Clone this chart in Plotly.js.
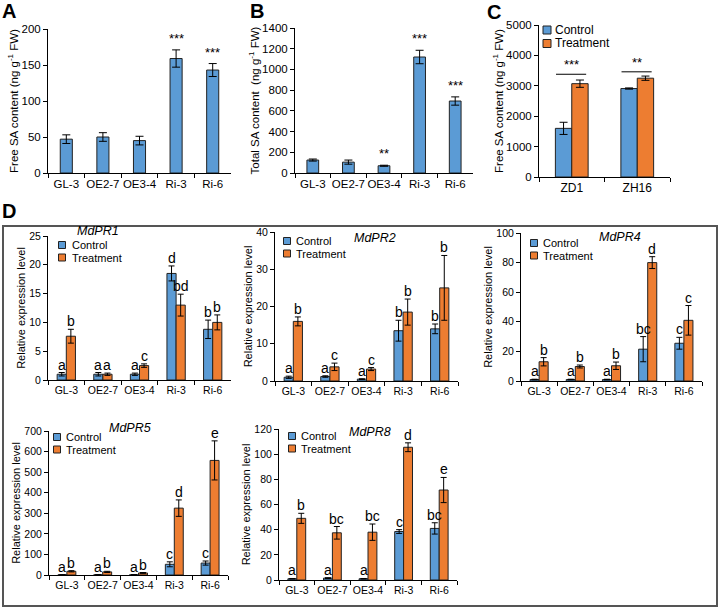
<!DOCTYPE html>
<html>
<head>
<meta charset="utf-8">
<script src="https://cdn.plot.ly/plotly-3.0.1.min.js"></script>
<style>html,body{margin:0;padding:0;background:#fff;}#chart{width:719px;height:609px;}</style>
</head>
<body>
<div id="chart"></div>
<script>
// ---------- data ----------
const lines = ['GL-3', 'OE2-7', 'OE3-4', 'Ri-3', 'Ri-6'];
const seriesNames = ['Control', 'Treatment'];

const freeSA = [47, 50, 45, 159, 143];
const freeSAErr = [6, 6, 6, 12, 9];
const freeSAStars = ['', '', '', '***', '***'];

const totalSA = [125, 105, 70, 1120, 695];
const totalSAErr = [10, 20, 5, 65, 40];
const totalSAStars = ['', '', '**', '***', '***'];

const cultivars = ['ZD1', 'ZH16'];
const cControl = [1600, 2910];
const cControlErr = [200, 20];
const cTreatment = [3070, 3250];
const cTreatmentErr = [120, 70];
const cStars = ['***', '**'];
const cSigLevel = [3380, 3460];

const genes = ['MdPR1', 'MdPR2', 'MdPR4', 'MdPR5', 'MdPR8'];
const pr1Control = [1, 1, 1, 18.5, 8.8];
const pr1ControlErr = [0.3, 0.3, 0.2, 1.3, 1.6];
const pr1Treatment = [7.6, 1.0, 2.5, 13, 10];
const pr1TreatmentErr = [1.2, 0.2, 0.3, 1.9, 1.3];
const pr1ControlLetters = ['a', 'a', 'a', 'd', 'b'];
const pr1TreatmentLetters = ['b', 'a', 'c', 'bd', 'b'];

const pr2Control = [1, 1.2, 0.5, 13.5, 14];
const pr2ControlErr = [0.3, 0.2, 0.1, 2.8, 1.3];
const pr2Treatment = [16, 3.8, 3.2, 18.5, 25];
const pr2TreatmentErr = [1.2, 1.0, 0.4, 3.5, 8.7];
const pr2ControlLetters = ['a', 'a', 'a', 'b', 'b'];
const pr2TreatmentLetters = ['b', 'c', 'c', 'b', 'b'];

const pr4Control = [1, 1, 1, 21.5, 25.5];
const pr4ControlErr = [0.2, 0.2, 0.2, 8.5, 4];
const pr4Treatment = [13, 9.8, 10.3, 80, 41];
const pr4TreatmentErr = [2.8, 1, 2.5, 4, 10];
const pr4ControlLetters = ['a', 'a', 'a', 'bc', 'c'];
const pr4TreatmentLetters = ['b', 'b', 'b', 'd', 'c'];

const pr5Control = [1, 1, 1, 52, 58];
const pr5ControlErr = [0.3, 0.3, 0.3, 12, 10];
const pr5Treatment = [18, 15, 10, 325, 557];
const pr5TreatmentErr = [3, 3, 2, 40, 95];
const pr5ControlLetters = ['a', 'a', 'a', 'c', 'c'];
const pr5TreatmentLetters = ['b', 'b', 'b', 'd', 'e'];

const pr8Control = [1, 1.5, 1, 38.5, 41];
const pr8ControlErr = [0.2, 0.3, 0.2, 1.5, 4.5];
const pr8Treatment = [49, 37.5, 38, 105.5, 71.5];
const pr8TreatmentErr = [4, 5, 6.5, 3.5, 10];
const pr8ControlLetters = ['a', 'a', 'a', 'c', 'bc'];
const pr8TreatmentLetters = ['b', 'bc', 'bc', 'd', 'e'];

const geneData = [
  {c: pr1Control, ce: pr1ControlErr, t: pr1Treatment, te: pr1TreatmentErr, cl: pr1ControlLetters, tl: pr1TreatmentLetters, max: 25, dt: 5},
  {c: pr2Control, ce: pr2ControlErr, t: pr2Treatment, te: pr2TreatmentErr, cl: pr2ControlLetters, tl: pr2TreatmentLetters, max: 40, dt: 10},
  {c: pr4Control, ce: pr4ControlErr, t: pr4Treatment, te: pr4TreatmentErr, cl: pr4ControlLetters, tl: pr4TreatmentLetters, max: 100, dt: 20},
  {c: pr5Control, ce: pr5ControlErr, t: pr5Treatment, te: pr5TreatmentErr, cl: pr5ControlLetters, tl: pr5TreatmentLetters, max: 700, dt: 100},
  {c: pr8Control, ce: pr8ControlErr, t: pr8Treatment, te: pr8TreatmentErr, cl: pr8ControlLetters, tl: pr8TreatmentLetters, max: 120, dt: 20}
];

// ---------- styling / layout helpers ----------
const W = 719, H = 609;
const FONT = 'Arial, "Liberation Sans", Helvetica, sans-serif';
const BLUE = '#5b9bd5', ORANGE = '#ed7d31';
const COLORS = [BLUE, ORANGE];
const fx = p => p / W;
const fy = p => 1 - p / H;

function xAxis(px0, px1, yName, size) {
  return {
    domain: [fx(px0), fx(px1)], anchor: yName, type: 'category',
    tickson: 'boundaries', ticks: 'outside', ticklen: 4, tickcolor: '#000', tickangle: 0,
    showline: true, linecolor: '#000', linewidth: 1, showgrid: false, zeroline: false,
    tickfont: {family: FONT, size: size, color: '#000'}, fixedrange: true
  };
}
function yAxis(py0, py1, xName, max, dt, title, size, tsize, standoff) {
  const tv = [];
  for (let v = 0; v <= max + 1e-9; v += dt) tv.push(v);
  return {
    domain: [fy(py1), fy(py0)], anchor: xName, range: [0, max],
    tickvals: tv, ticks: 'outside', ticklen: 4, tickcolor: '#000',
    showline: true, linecolor: '#000', linewidth: 1, showgrid: false, zeroline: false,
    tickfont: {family: FONT, size: size, color: '#000'},
    title: {text: title, font: {family: FONT, size: tsize, color: '#000'}, standoff: standoff},
    fixedrange: true
  };
}
const errStyle = (arr, w) => ({type: 'data', array: arr, color: '#000', thickness: 1, width: w, visible: true});
const barLine = {color: '#222', width: 1};

const traces = [];
const annotations = [];
const shapes = [];
const layout = {
  width: W, height: H, margin: {l: 0, r: 0, t: 0, b: 0},
  paper_bgcolor: '#fff', plot_bgcolor: 'rgba(0,0,0,0)',
  barmode: 'group', bargap: 0.5, bargroupgap: 0, showlegend: false,
  font: {family: FONT, color: '#000'},
  annotations: annotations, shapes: shapes
};

// compact legend: square swatch + label (positions in pixels)
function addLegend(sx, sy0, dy, textX, size, half) {
  seriesNames.forEach((nm, i) => {
    const cy = sy0 + i * dy;
    shapes.push({type: 'rect', xref: 'paper', yref: 'paper', x0: fx(sx - half), x1: fx(sx + half),
      y0: fy(cy + half), y1: fy(cy - half), fillcolor: COLORS[i], line: {color: '#222', width: 1}});
    annotations.push({xref: 'paper', yref: 'paper', x: fx(textX), y: fy(cy), text: nm, showarrow: false,
      xanchor: 'left', yanchor: 'middle', font: {family: FONT, size: size, color: '#000'}});
  });
}

// ---------- Panel A ----------
layout.xaxis = xAxis(48, 231, 'y', 11.5);
layout.yaxis = yAxis(29, 173, 'x', 200, 50, 'Free SA content (ng g<sup>-1</sup> FW)', 11.5, 11.5, 0);
traces.push({type: 'bar', name: 'Free SA', x: lines, y: freeSA, width: 0.33, xaxis: 'x', yaxis: 'y',
  marker: {color: BLUE, line: barLine}, error_y: errStyle(freeSAErr, 4)});
lines.forEach((l, i) => {
  if (freeSAStars[i]) annotations.push({xref: 'x', yref: 'y', x: i, y: freeSA[i] + freeSAErr[i],
    text: freeSAStars[i], showarrow: false, yanchor: 'bottom', yshift: 2, font: {size: 13, family: FONT}});
});

// ---------- Panel B ----------
layout.xaxis2 = xAxis(295, 473, 'y2', 11.5);
layout.yaxis2 = yAxis(28, 173, 'x2', 1400, 200, 'Total SA content  (ng g<sup>-1</sup> FW)', 11.5, 11.5, 0);
traces.push({type: 'bar', name: 'Total SA', x: lines, y: totalSA, width: 0.33, xaxis: 'x2', yaxis: 'y2',
  marker: {color: BLUE, line: barLine}, error_y: errStyle(totalSAErr, 4)});
lines.forEach((l, i) => {
  if (totalSAStars[i]) annotations.push({xref: 'x2', yref: 'y2', x: i, y: totalSA[i] + totalSAErr[i],
    text: totalSAStars[i], showarrow: false, yanchor: 'bottom', yshift: 2, font: {size: 13, family: FONT}});
});

// ---------- Panel C ----------
layout.xaxis3 = xAxis(539, 670, 'y3', 12);
layout.yaxis3 = yAxis(25, 177, 'x3', 5000, 1000, 'Free SA content (ng g<sup>-1</sup> FW)', 11.5, 11.5, 0);
traces.push({type: 'bar', name: seriesNames[0], x: cultivars, y: cControl, xaxis: 'x3', yaxis: 'y3',
  marker: {color: BLUE, line: barLine}, error_y: errStyle(cControlErr, 4)});
traces.push({type: 'bar', name: seriesNames[1], x: cultivars, y: cTreatment, xaxis: 'x3', yaxis: 'y3',
  marker: {color: ORANGE, line: barLine}, error_y: errStyle(cTreatmentErr, 4)});
cultivars.forEach((c, i) => {
  shapes.push({type: 'line', xref: 'x3', yref: 'y3', x0: i - 0.24, x1: i + 0.22, y0: cSigLevel[i], y1: cSigLevel[i],
    line: {color: '#000', width: 1}});
  annotations.push({xref: 'x3', yref: 'y3', x: i - 0.01, y: cSigLevel[i], text: cStars[i], showarrow: false,
    yanchor: 'bottom', yshift: 0, font: {size: 13, family: FONT}});
});
addLegend(547, 30, 13.5, 553, 12, 4);

// ---------- Panel D ----------
const dBoxes = [
  {x: [48, 231], y: [236, 380], title: [98, 231], leg: [62, 245, 70]},
  {x: [275, 458], y: [232, 381], title: [375, 238], leg: [287, 241, 294]},
  {x: [521, 702], y: [233, 381], title: [620, 237], leg: [534, 243, 541]},
  {x: [49, 228], y: [431, 575], title: [130, 428], leg: [57, 437, 64]},
  {x: [279, 457], y: [429, 580], title: [370, 432], leg: [292, 436, 299]}
];
geneData.forEach((g, k) => {
  const n = 4 + k;
  const xa = 'x' + n, ya = 'y' + n;
  const b = dBoxes[k];
  layout['xaxis' + n] = xAxis(b.x[0], b.x[1], ya, 10.5);
  layout['yaxis' + n] = yAxis(b.y[0], b.y[1], xa, g.max, g.dt, 'Relative expression level', 10.5, 11, 1);
  traces.push({type: 'bar', name: seriesNames[0], x: lines, y: g.c, xaxis: xa, yaxis: ya,
    marker: {color: BLUE, line: barLine}, error_y: errStyle(g.ce, 3)});
  traces.push({type: 'bar', name: seriesNames[1], x: lines, y: g.t, xaxis: xa, yaxis: ya,
    marker: {color: ORANGE, line: barLine}, error_y: errStyle(g.te, 3)});
  lines.forEach((l, i) => {
    annotations.push({xref: xa, yref: ya, x: i - 0.125, y: g.c[i] + g.ce[i], text: g.cl[i], showarrow: false,
      yanchor: 'bottom', yshift: -2, font: {size: 14, family: FONT}});
    annotations.push({xref: xa, yref: ya, x: i + 0.125, y: g.t[i] + g.te[i], text: g.tl[i], showarrow: false,
      yanchor: 'bottom', yshift: -2, font: {size: 14, family: FONT}});
  });
  annotations.push({xref: 'paper', yref: 'paper', x: fx(b.title[0]), y: fy(b.title[1]), text: '<i>' + genes[k] + '</i>',
    showarrow: false, xanchor: 'center', yanchor: 'middle', font: {size: 12.5, family: FONT}});
  addLegend(b.leg[0], b.leg[1], 12.5, b.leg[2], 11, 3.5);
});

// panel D frame
shapes.push({type: 'rect', xref: 'paper', yref: 'paper', x0: fx(3), x1: fx(717), y0: fy(606), y1: fy(226),
  line: {color: '#555', width: 2}, fillcolor: 'rgba(0,0,0,0)'});

// panel letters
[['A', 9, 11], ['B', 257, 11], ['C', 494, 12], ['D', 9, 211]].forEach(p => {
  annotations.push({xref: 'paper', yref: 'paper', x: fx(p[1]), y: fy(p[2]), text: '<b>' + p[0] + '</b>',
    showarrow: false, xanchor: 'center', yanchor: 'middle', font: {size: 20, family: FONT, color: '#000'}});
});

Plotly.newPlot('chart', traces, layout, {displayModeBar: false, staticPlot: true});
</script>
</body>
</html>
